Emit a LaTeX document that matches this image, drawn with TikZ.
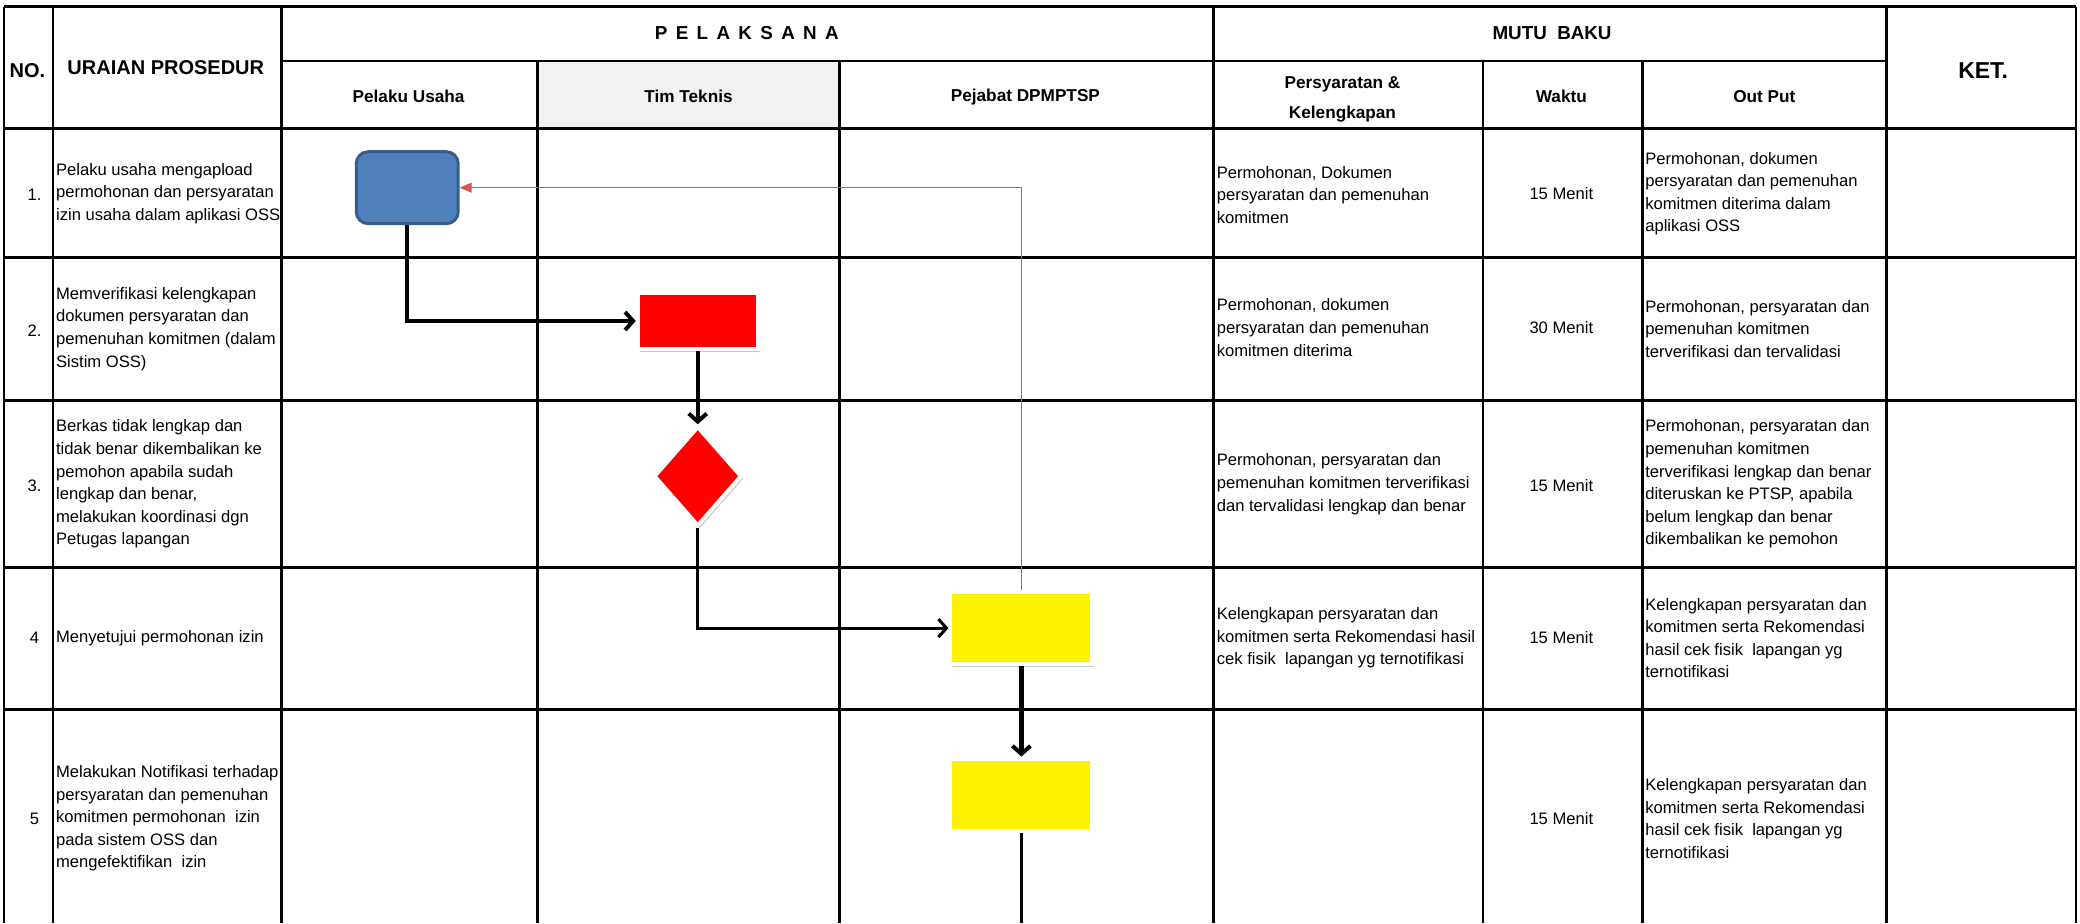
\documentclass[tikz,border=0pt]{standalone}
\usepackage{fontspec}
\setmainfont{Liberation Sans}
\usetikzlibrary{shapes.geometric,shadows,arrows.meta}
\definecolor{hdrgray}{HTML}{F2F2F2}
\definecolor{boxblue}{HTML}{4F81BD}
\definecolor{boxblueedge}{HTML}{385D8A}
\definecolor{retred}{HTML}{D9534F}
\newcommand{\cellfnt}{\fontsize{8.3}{11.3}\selectfont}
\begin{document}
\begin{tikzpicture}[x=0.6633pt,y=-0.6633pt,
  grid/.style={line width=1.3pt, black},
  cell/.style={anchor=west, align=left, inner sep=0pt, font=\cellfnt},
  ctr/.style={anchor=center, align=center, inner sep=0pt, font=\cellfnt},
  hdr/.style={anchor=center, align=center, inner sep=0pt, font=\bfseries\fontsize{8.6}{15}\selectfont},
  tophdr/.style={anchor=center, align=center, inner sep=0pt, font=\bfseries\fontsize{9.4}{13}\selectfont},
  bighdr/.style={anchor=center, align=center, inner sep=0pt, font=\bfseries\fontsize{10}{13}\selectfont},
  flowbox/.style={draw=white, line width=2pt, inner sep=0pt,
    drop shadow={opacity=0.45, shadow xshift=1pt, shadow yshift=-1.3pt}},
  flowthick/.style={line width=2.2pt, black, -{Straight Barb[length=4pt,width=9pt,line width=2pt]}},
  flowthin/.style={line width=1.5pt, black, -{Straight Barb[length=4pt,width=9pt,line width=1.5pt]}},
  retline/.style={line width=0.7pt, retred, -{Triangle[length=6pt,width=5pt]}}
]
\useasboundingbox (0,0) rectangle (1568,696);
% header fill
\fill[hdrgray] (405,46) rectangle (633,97);
% grid lines
\foreach \x in {3,40,212,915,1422,1565} \draw[grid] (\x,5) -- (\x,696);
\foreach \x in {405,633,1118,1238} \draw[grid] (\x,46) -- (\x,696);
\draw[grid] (3,5) -- (1565,5);
\draw[grid] (212,46) -- (1422,46);
\foreach \y in {97,194,302,428,535} \draw[grid] (3,\y) -- (1565,\y);

% header texts
\node[bighdr, anchor=west] (hno) at (7,53) {NO.};
\node[bighdr] (huraian) at (125,51) {URAIAN PROSEDUR};
\node[tophdr] (hpel) at (563,25) {P\ \,E\ \,L\ \,A\ \,K\ \,S\ \,A\ \,N\ \,A};
\node[tophdr] (hmutu) at (1170,25) {MUTU\ \ BAKU};
\node[bighdr, font=\bfseries\fontsize{11.5}{13}\selectfont] (hket) at (1495,53) {KET.};
\node[hdr] (hpu) at (308,73) {Pelaku Usaha};
\node[hdr] (htt) at (519,73) {Tim Teknis};
\node[hdr] (hpj) at (773,73) {Pejabat DPMPTSP};
\node[hdr] (hps) at (1012,75) {Persyaratan \&\\Kelengkapan};
\node[hdr] (hwk) at (1177,73) {Waktu};
\node[hdr] (hop) at (1330,73) {Out Put};

% row numbers
\node[ctr] (n1) at (26,147) {1.};
\node[ctr] (n2) at (26,249) {2.};
\node[ctr] (n3) at (26,366) {3.};
\node[ctr] (n4) at (26,481) {4};
\node[ctr] (n5) at (26,617) {5};

% descriptions
\node[cell] (d1) at (42,146) {Pelaku usaha mengapload\\permohonan dan persyaratan\\izin usaha dalam aplikasi OSS};
\node[cell] (d2) at (42,248) {Memverifikasi kelengkapan\\dokumen persyaratan dan\\pemenuhan komitmen (dalam\\Sistim OSS)};
\node[cell] (d3) at (42,365) {Berkas tidak lengkap dan\\tidak benar dikembalikan ke\\pemohon apabila sudah\\lengkap dan benar,\\melakukan koordinasi dgn\\Petugas lapangan};
\node[cell] (d4) at (42,481) {Menyetujui permohonan izin};
\node[cell] (d5) at (42,617) {Melakukan Notifikasi terhadap\\persyaratan dan pemenuhan\\komitmen permohonan\ \ izin\\pada sistem OSS dan\\mengefektifikan\ \ izin};

% persyaratan
\node[cell] (p1) at (917,147) {Permohonan, Dokumen\\persyaratan dan pemenuhan\\komitmen};
\node[cell] (p2) at (917,247) {Permohonan, dokumen\\persyaratan dan pemenuhan\\komitmen diterima};
\node[cell] (p3) at (917,365) {Permohonan, persyaratan dan\\pemenuhan komitmen terverifikasi\\dan tervalidasi lengkap dan benar};
\node[cell] (p4) at (917,481) {Kelengkapan persyaratan dan\\komitmen serta Rekomendasi hasil\\cek fisik\ \ lapangan yg ternotifikasi};

% waktu
\node[ctr] (w1) at (1177,146) {15 Menit};
\node[ctr] (w2) at (1177,247) {30 Menit};
\node[ctr] (w3) at (1177,366) {15 Menit};
\node[ctr] (w4) at (1177,481) {15 Menit};
\node[ctr] (w5) at (1177,617) {15 Menit};

% output
\node[cell] (o1) at (1240,146) {Permohonan, dokumen\\persyaratan dan pemenuhan\\komitmen diterima dalam\\aplikasi OSS};
\node[cell] (o2) at (1240,248) {Permohonan, persyaratan dan\\pemenuhan komitmen\\terverifikasi dan tervalidasi};
\node[cell] (o3) at (1240,365) {Permohonan, persyaratan dan\\pemenuhan komitmen\\terverifikasi lengkap dan benar\\diteruskan ke PTSP, apabila\\belum lengkap dan benar\\dikembalikan ke pemohon};
\node[cell] (o4) at (1240,481) {Kelengkapan persyaratan dan\\komitmen serta Rekomendasi\\hasil cek fisik\ \ lapangan yg\\ternotifikasi};
\node[cell] (o5) at (1240,617) {Kelengkapan persyaratan dan\\komitmen serta Rekomendasi\\hasil cek fisik\ \ lapangan yg\\ternotifikasi};

% flow shapes
\node[draw=boxblueedge, fill=boxblue, line width=1.5pt, rounded corners=6pt,
  minimum width=51pt, minimum height=36pt, inner sep=0pt] (blue) at (307,141.5) {};
\node[flowbox, fill=red, minimum width=60pt, minimum height=28pt] (redbox) at (526,242) {};
\node[flowbox, fill=red, diamond, minimum width=44pt, minimum height=50pt] (dia) at (526,359) {};
\node[flowbox, fill=yellow, minimum width=71pt, minimum height=36pt] (yel1) at (770,473.5) {};
\node[flowbox, fill=yellow, minimum width=71pt, minimum height=36pt] (yel2) at (770,599) {};
\coordinate (tail) at (770,696);

% connectors
\draw[flowthick] (blue.south) |- (redbox.west);
\draw[flowthick] (redbox.south) -- (dia.north);
\draw[flowthin] (dia.south) |- (yel1.west);
\draw[flowthick] (yel1.south) -- (yel2.north);
\draw[line width=1.5pt] (yel2.south) -- (tail);
\draw[retline] (yel1.north) |- (blue.east);
\end{tikzpicture}
\end{document}
